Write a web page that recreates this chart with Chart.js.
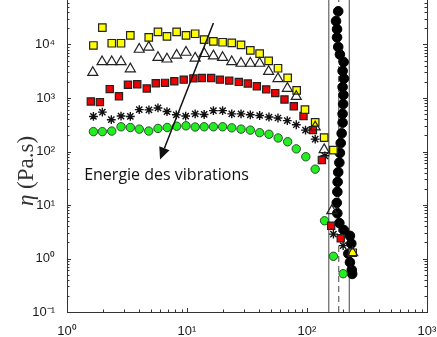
<!DOCTYPE html>
<html><head><meta charset="utf-8">
<script src="https://cdn.jsdelivr.net/npm/chart.js@4.4.1/dist/chart.umd.min.js"></script>
<style>
html,body{margin:0;padding:0;background:#fff;overflow:hidden;}
#wrap{position:relative;width:437px;height:337px;overflow:hidden;}
#c{position:absolute;left:0;top:-16px;}
</style></head><body>
<div id="wrap"><canvas id="c" width="450" height="353"></canvas></div>
<script>
// ---- data ----
const yellowX = [1.66, 1.97, 2.36, 2.82, 3.37, 4.80, 5.73, 6.81, 8.20, 9.81, 11.7, 13.9, 16.6, 19.8, 23.6, 28.2, 33.7, 40.3, 47.9, 57.3, 69.0, 82.0, 96.2, 117, 139, 166, 240];
const yellowY = [9590, 20700, 10560, 10560, 14790, 13590, 17260, 14170, 17260, 14790, 15880, 12340, 11480, 11020, 10740, 9880, 7770, 6760, 4960, 3600, 2370, 1390, 607, 351, 182, 106, 1.28];

const triX = [1.64, 1.96, 2.36, 2.82, 3.37, 4.00, 4.80, 5.73, 6.81, 8.20, 9.81, 11.7, 13.9, 16.6, 19.8, 23.6, 28.2, 33.7, 40.3, 47.9, 57.3, 68.6, 81.4, 117, 139, 161, 240];
const triY = [2990, 4750, 4750, 4750, 3500, 8110, 8930, 5720, 5330, 6300, 7140, 5560, 6760, 6110, 5720, 4750, 4440, 4440, 4440, 3120, 2300, 1510, 1065, 287, 108, 7.8, 1.28];

const redX = [1.58, 1.88, 2.27, 2.71, 3.22, 3.85, 4.62, 5.49, 6.56, 7.84, 9.39, 11.3, 13.3, 15.9, 18.8, 22.5, 27.0, 32.1, 38.2, 45.7, 54.4, 64.9, 77.6, 93.5, 112, 133, 159, 191];
const redY = [863, 838, 1466, 1079, 1763, 1808, 1510, 1888, 1918, 2050, 2204, 2327, 2366, 2366, 2204, 2113, 2000, 1862, 1663, 1448, 1234, 939, 703, 460, 251, 69.4, 4.09, 2.39];

const starX = [1.66, 1.97, 2.34, 2.82, 3.37, 4.00, 4.82, 5.73, 6.81, 8.14, 9.75, 11.7, 13.9, 16.6, 19.8, 23.6, 28.2, 33.7, 40.3, 48.2, 57.3, 68.5, 81.4, 97.2, 117, 141, 166, 200];
const starY = [452, 544, 393, 460, 452, 607, 599, 651, 558, 485, 460, 506, 492, 582, 582, 506, 506, 485, 471, 441, 423, 377, 316, 251, 170, 83.1, 2.85, 1.74];

const greenX = [1.66, 1.97, 2.36, 2.82, 3.37, 4.00, 4.80, 5.73, 6.84, 8.20, 9.81, 11.7, 13.9, 16.6, 19.8, 23.6, 28.2, 33.7, 40.3, 48.2, 57.5, 69.0, 81.4, 97.7, 117, 140, 166, 200];
const greenY = [235, 235, 241, 290, 281, 262, 241, 270, 281, 297, 302, 287, 290, 290, 290, 277, 262, 251, 225, 210, 179, 152, 112, 79.7, 46.8, 5.08, 1.10, 0.52];

const blackX = [182, 174.5, 178, 178, 182, 188, 202, 198, 203, 198, 201, 200, 198, 198, 194.5, 191, 188, 186, 182, 180, 179, 177, 179, 186, 203, 228, 234, 221, 228, 236, 238];
const blackY = [41700, 27400, 19350, 13590, 9000, 6500, 4700, 3200, 2300, 1600, 1140, 771, 506, 345, 218, 144, 94, 62, 41, 27, 17.6, 11, 7, 4.6, 3.4, 2.65, 1.9, 1.23, 0.85, 0.61, 0.515];

const solidLineX = [152, 225];
const dashedLineX = [184];

const xDecades = [0, 1, 2, 3];
const xTickLabels = ['10⁰', '10¹', '10²', '10³'];
const yDecades = [-1, 0, 1, 2, 3, 4, 5];
const yTickLabels = ['10⁻¹', '10⁰', '10¹', '10²', '10³', '10⁴', ''];

const yTitleSymbol = 'η';
const yTitleUnit = ' (Pa.s)';
const annotationText = 'Energie des vibrations';
const annotationPos = {x: 1.39, y: 29.5};
const arrowFrom = {x: 16.6, y: 25200};
const arrowTo = {x: 5.96, y: 71};

// ---- helpers ----
const pts = (xs, ys) => xs.map((v, i) => ({x: v, y: ys[i]}));
function logTicks(decs) {
  const t = [];
  for (let i = 0; i < decs.length - 1; i++)
    for (let m = 1; m <= 9; m++) t.push({value: m * Math.pow(10, decs[i])});
  t.push({value: Math.pow(10, decs[decs.length - 1])});
  return t;
}
function decadeIndex(v, decs) {
  const l = Math.log10(v);
  if (Math.abs(l - Math.round(l)) > 1e-6) return -1;
  return decs.indexOf(Math.round(l));
}
const vline = (xv, dash) => ({
  type: 'scatter', showLine: true, data: [{x: xv, y: 0.1}, {x: xv, y: 1e5}],
  borderColor: '#444', borderWidth: 1, borderDash: dash ? [6, 4] : [],
  pointRadius: 0, order: 20
});

const frame = {
  id: 'frame',
  afterDatasetsDraw(chart) {
    const {ctx, chartArea: a, scales: {x, y}} = chart;
    ctx.save();
    ctx.strokeStyle = '#333'; ctx.lineWidth = 1;
    const R = Math.round(a.right) + 0.5;
    ctx.beginPath(); ctx.moveTo(R, a.top); ctx.lineTo(R, a.bottom); ctx.stroke();
    x.ticks.forEach(t => {
      const px = Math.round(x.getPixelForValue(t.value)) + 0.5;
      const L = decadeIndex(t.value, xDecades) >= 0 ? 4 : 2.5;
      ctx.beginPath(); ctx.moveTo(px, a.bottom); ctx.lineTo(px, a.bottom - L); ctx.stroke();
    });
    y.ticks.forEach(t => {
      const py = Math.round(y.getPixelForValue(t.value)) + 0.5;
      const L = decadeIndex(t.value, yDecades) >= 0 ? 4 : 2.5;
      ctx.beginPath(); ctx.moveTo(a.left, py); ctx.lineTo(a.left + L, py); ctx.stroke();
      ctx.beginPath(); ctx.moveTo(a.right, py); ctx.lineTo(a.right - L, py); ctx.stroke();
    });
    // arrow
    const x1 = x.getPixelForValue(arrowFrom.x), y1 = y.getPixelForValue(arrowFrom.y);
    const x2 = x.getPixelForValue(arrowTo.x), y2 = y.getPixelForValue(arrowTo.y);
    const ang = Math.atan2(y2 - y1, x2 - x1), hl = 12, hw = 5.5;
    const bx = x2 - hl * Math.cos(ang), by = y2 - hl * Math.sin(ang);
    ctx.strokeStyle = '#111'; ctx.lineWidth = 1.5;
    ctx.beginPath(); ctx.moveTo(x1, y1); ctx.lineTo(bx, by); ctx.stroke();
    ctx.fillStyle = '#111';
    ctx.beginPath(); ctx.moveTo(x2, y2);
    ctx.lineTo(bx + hw * Math.sin(ang), by - hw * Math.cos(ang));
    ctx.lineTo(bx - hw * Math.sin(ang), by + hw * Math.cos(ang));
    ctx.closePath(); ctx.fill();
    // annotation text
    ctx.font = '16px "Open Sans"'; ctx.fillStyle = '#111';
    ctx.textAlign = 'left'; ctx.textBaseline = 'alphabetic';
    ctx.fillText(annotationText, x.getPixelForValue(annotationPos.x), y.getPixelForValue(annotationPos.y));
    // y title: italic eta + upright unit
    ctx.translate(27, 187); ctx.rotate(-Math.PI / 2);
    ctx.textBaseline = 'middle'; ctx.textAlign = 'left'; ctx.fillStyle = '#333';
    const fSym = 'italic 23px "Liberation Serif"', fUnit = '23px "Liberation Serif"';
    ctx.font = fSym; const w1 = ctx.measureText(yTitleSymbol).width;
    ctx.font = fUnit; const w2 = ctx.measureText(yTitleUnit).width;
    const sx = -(w1 + w2) / 2;
    ctx.font = fSym; ctx.fillText(yTitleSymbol, sx, 0);
    ctx.font = fUnit; ctx.fillText(yTitleUnit, sx + w1, 0);
    ctx.restore();
  }
};

new Chart(document.getElementById('c'), {
  type: 'scatter',
  data: {
    datasets: [
      {data: pts(triX, triY), pointStyle: 'triangle', pointRadius: 5.8, backgroundColor: 'rgba(0,0,0,0)', borderColor: '#222', borderWidth: 1.2, order: 1},
      {data: pts(yellowX, yellowY), pointStyle: 'rect', pointRadius: 5.3, backgroundColor: '#ffff00', borderColor: '#222', borderWidth: 1.2, order: 2},
      {data: pts(redX, redY), pointStyle: 'rect', pointRadius: 5.1, backgroundColor: '#f00000', borderColor: '#222', borderWidth: 1.2, order: 3},
      {data: pts(starX, starY), pointStyle: 'star', pointRadius: 4.4, backgroundColor: '#111', borderColor: '#111', borderWidth: 1.4, order: 4},
      {data: pts(greenX, greenY), pointStyle: 'circle', pointRadius: 4.2, backgroundColor: '#22ee22', borderColor: '#2b4d2b', borderWidth: 1, order: 5},
      {data: pts(blackX, blackY), pointStyle: 'circle', pointRadius: 4.8, backgroundColor: '#000', borderColor: '#000', borderWidth: 1, order: 6},
      ...solidLineX.map(v => vline(v, false)),
      ...dashedLineX.map(v => vline(v, true))
    ]
  },
  options: {
    responsive: false, animation: false, devicePixelRatio: 1,
    layout: {padding: {left: 0, right: 23, top: 0, bottom: 0}},
    plugins: {legend: {display: false}, tooltip: {enabled: false}},
    scales: {
      x: {
        type: 'logarithmic', min: 1, max: 1000,
        afterBuildTicks: s => { s.ticks = logTicks(xDecades); },
        afterFit: s => { s.height = 25; s.paddingLeft = 0; s.paddingRight = 0; },
        grid: {display: false},
        border: {display: true, color: '#333', width: 1},
        ticks: {
          autoSkip: false, maxRotation: 0, padding: 4, color: '#1a1a1a',
          font: {family: '"Liberation Sans", Arial, sans-serif', size: 13},
          callback: v => { const i = decadeIndex(v, xDecades); return i >= 0 ? xTickLabels[i] : ''; }
        }
      },
      y: {
        type: 'logarithmic', min: 0.1, max: 1e5,
        afterBuildTicks: s => { s.ticks = logTicks(yDecades); },
        afterFit: s => { s.width = 67; s.paddingTop = 0; s.paddingBottom = 0; },
        grid: {display: false},
        border: {display: true, color: '#333', width: 1},
        ticks: {
          autoSkip: false, padding: 4, color: '#1a1a1a',
          font: {family: '"Liberation Sans", Arial, sans-serif', size: 13},
          callback: v => { const i = decadeIndex(v, yDecades); return i >= 0 ? yTickLabels[i] : ''; }
        }
      }
    }
  },
  plugins: [frame]
});
</script>
</body></html>
